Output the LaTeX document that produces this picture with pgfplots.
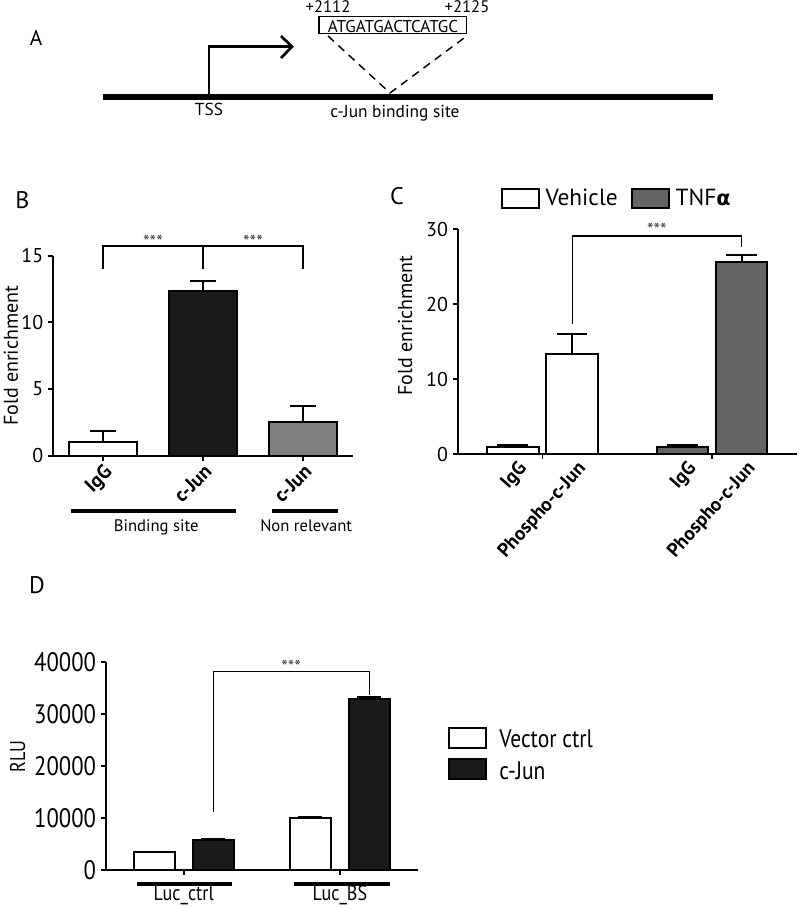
\documentclass[border=0pt]{standalone}
\usepackage{fontspec}
\setmainfont{PT Sans}
\newfontfamily\dfont[FakeStretch=0.85]{PT Sans}
\newfontfamily\grk{DejaVu Sans}
\usepackage{pgfplots}
\pgfplotsset{compat=1.18}
\newcommand\fs[1]{\fontsize{#1}{#1}\selectfont}
\definecolor{cjun}{HTML}{1A1A1A}
\definecolor{nonrel}{HTML}{808080}
\definecolor{tnf}{HTML}{646464}
\definecolor{sig}{HTML}{444444}
\pgfplotsset{
  panel/.style={
    scale only axis, anchor=south west, clip=false,
    axis x line*=bottom, axis y line*=left,
    axis line style={line width=1.5pt, -},
    tick align=outside, major tick length=3.75pt,
    tick style={line width=1.4pt, black},
    /pgf/number format/assume math mode=true,
    ybar,
  },
  mybar/.style={bar shift=0pt, draw=black, line width=1.5pt,
    error bars/.cd, y dir=plus, y explicit,
    error bar style={line width=1.5pt, black, solid},
    error mark=-, error mark options={rotate=90, line width=1.5pt, black, mark size=#1}},
  legC/.style={legend image code/.code={\draw[##1, line width=1.5pt] (0pt,-7pt) rectangle (28pt,7.25pt);}},
  legD/.style={legend image code/.code={\draw[##1, line width=1.5pt] (0pt,-5.6pt) rectangle (28.3pt,9.4pt);}},
}
\begin{document}
\begin{tikzpicture}
\useasboundingbox (0,0) rectangle (600pt,-680.25pt);
% ---------- panel A schematic and panel letters ----------
\begin{scope}[x=0.75pt,y=-0.75pt]
\node[font=\fs{16}] at (36,38) {A};
\node[font=\fs{18}] at (22.5,200) {B};
\node[font=\fs{18}] at (397,196) {C};
\node[font=\fs{18}] at (37,585) {D};
\draw[line width=4.5pt] (102.6,96.7) -- (712.8,96.7);
\draw[line width=2pt] (209,97) -- (209,46.7) -- (291,46.7);
\draw[line width=2pt] (281,36) -- (292,46.7) -- (281,58);
\node[font=\fs{13}, anchor=base] at (209,115) {TSS};
\node[font=\fs{13}, anchor=base] at (395,117) {c-Jun binding site};
\draw[line width=0.9pt] (319,16.7) rectangle (466.7,33.3);
\node[font=\fs{12.8}, anchor=base, inner sep=0pt] at (393,32) {ATGATGACTCATGC};
\node[font=\fs{12.5}, anchor=base] at (328,12.3) {+2112};
\node[font=\fs{12.5}, anchor=base] at (467,12.3) {+2125};
\draw[line width=1.1pt, dash pattern=on 6pt off 4.5pt] (328,36) -- (390,93) -- (464,38);
\end{scope}
% ---------- panel B ----------
\begin{axis}[panel, at={(39.75pt,-341.78pt)}, width=225pt, height=150pt,
  xmin=-0.5, xmax=2.5, ymin=0, ymax=15, ytick={0,5,10,15},
  xtick={0,1,2}, xticklabels={IgG,c-Jun,c-Jun},
  bar width=0.68,
  xticklabel style={rotate=45, anchor=north east, font=\bfseries\fs{15}, inner sep=1pt},
  yticklabel style={font=\fs{15}},
  ylabel={Fold enrichment},
  ylabel style={font=\fs{15}, at={(axis description cs:-0.14,0.5)}, anchor=center},
]
\addplot[fill=white, mybar=9.5pt] coordinates {(0,1.0) +- (0,0.85)};
\addplot[fill=cjun, mybar=9.5pt] coordinates {(1,12.38) +- (0,0.72)};
\addplot[fill=nonrel, mybar=9.5pt] coordinates {(2,2.5) +- (0,1.22)};
\draw[line width=0.9pt] (axis cs:0,14) -- (axis cs:0,15.73) -- (axis cs:2,15.73) -- (axis cs:2,14);
\draw[line width=0.9pt] (axis cs:1,15.73) -- (axis cs:1,14);
\node[font=\fs{14}, text=sig] at (axis cs:0.5,16.05) {***};
\node[font=\fs{14}, text=sig] at (axis cs:1.5,16.05) {***};
\draw[line width=2.8pt] (axis cs:-0.318,-4.13) -- (axis cs:1.332,-4.13);
\draw[line width=2.8pt] (axis cs:1.692,-4.13) -- (axis cs:2.348,-4.13);
\node[font=\fs{12.5}, anchor=base] at (axis cs:0.532,-5.7) {Binding site};
\node[font=\fs{12.5}, anchor=base] at (axis cs:2.032,-5.7) {Non relevant};
\end{axis}
% ---------- panel C ----------
\begin{axis}[panel, at={(343.28pt,-340.5pt)}, width=254.25pt, height=168.75pt,
  xmin=-0.5, xmax=1.5, ymin=0, ymax=30, ytick={0,10,20,30},
  xtick={0,1}, xticklabels={},
  extra x ticks={-0.175,0.175,0.825,1.175},
  extra x tick labels={IgG,Phospho-c-Jun,IgG,Phospho-c-Jun},
  extra x tick style={major tick length=0pt,
    xticklabel style={rotate=48, anchor=north east, font=\bfseries\fs{14.5}, inner sep=1pt, yshift=-4pt}},
  bar width=0.304,
  yticklabel style={font=\fs{15}},
  ylabel={Fold enrichment},
  ylabel style={font=\fs{15}, at={(axis description cs:-0.155,0.571)}, anchor=center},
  legend columns=2,
  legend style={draw=none, fill=none, at={(axis description cs:0.127,1.19)}, anchor=north west,
    inner sep=0pt, font=\fs{17.5},
    /tikz/every odd column/.append style={column sep=2pt},
    /tikz/every even column/.append style={column sep=8pt}},
]
\addplot[fill=white, legC, mybar=11.5pt]
  coordinates {(-0.175,1.0) +- (0,0.2) (0.175,13.4) +- (0,2.6)};
\addplot[fill=tnf, legC, mybar=11.5pt]
  coordinates {(0.825,1.0) +- (0,0.2) (1.175,25.6) +- (0,1.0)};
\legend{Vehicle, TNF{\grk\bfseries\fs{15.5}α}}
\draw[line width=0.9pt] (axis cs:0.175,17.3) -- (axis cs:0.175,29.07) -- (axis cs:1.175,29.07) -- (axis cs:1.175,27.6);
\node[font=\fs{14}, text=sig] at (axis cs:0.675,29.95) {***};
\end{axis}
% ---------- panel D ----------
\begin{axis}[panel, at={(79.28pt,-652.5pt)}, width=234.2pt, height=156.2pt,
  xmin=-0.5, xmax=1.5, ymin=0, ymax=40000, ytick={0,10000,20000,30000,40000},
  scaled y ticks=false,
  yticklabel style={/pgf/number format/fixed, /pgf/number format/1000 sep={}, font=\dfont\fs{20}},
  xtick={0,1}, xticklabels={},
  bar width=0.26,
  ylabel={RLU},
  ylabel style={font=\dfont\fs{16}, at={(axis description cs:-0.282,0.544)}, anchor=center},
  legend cell align=left,
  legend style={draw=none, fill=none, at={(axis description cs:1.094,0.69)}, anchor=north west,
    inner sep=0pt, font=\dfont\fs{19}, row sep=4pt,
    /tikz/every odd column/.append style={column sep=7pt}},
]
\addplot[fill=white, legD, mybar=9pt]
  coordinates {(-0.189,3400) +- (0,150) (0.811,9900) +- (0,200)};
\addplot[fill=cjun, legD, mybar=9pt]
  coordinates {(0.189,5800) +- (0,200) (1.189,32900) +- (0,350)};
\legend{Vector ctrl, c-Jun}
\draw[line width=0.9pt] (axis cs:0.189,11075) -- (axis cs:0.189,38060) -- (axis cs:1.189,38060) -- (axis cs:1.189,33590);
\node[font=\fs{14}, text=sig] at (axis cs:0.688,39100) {***};
\draw[line width=2.5pt] (axis cs:-0.301,-2687) -- (axis cs:0.312,-2687);
\draw[line width=2.5pt] (axis cs:0.703,-2687) -- (axis cs:1.318,-2687);
\node[font=\dfont\fs{16}, anchor=base] at (axis cs:0,-5900) {Luc\_ctrl};
\node[font=\dfont\fs{16}, anchor=base] at (axis cs:1,-5900) {Luc\_BS};
\end{axis}
\end{tikzpicture}
\end{document}
